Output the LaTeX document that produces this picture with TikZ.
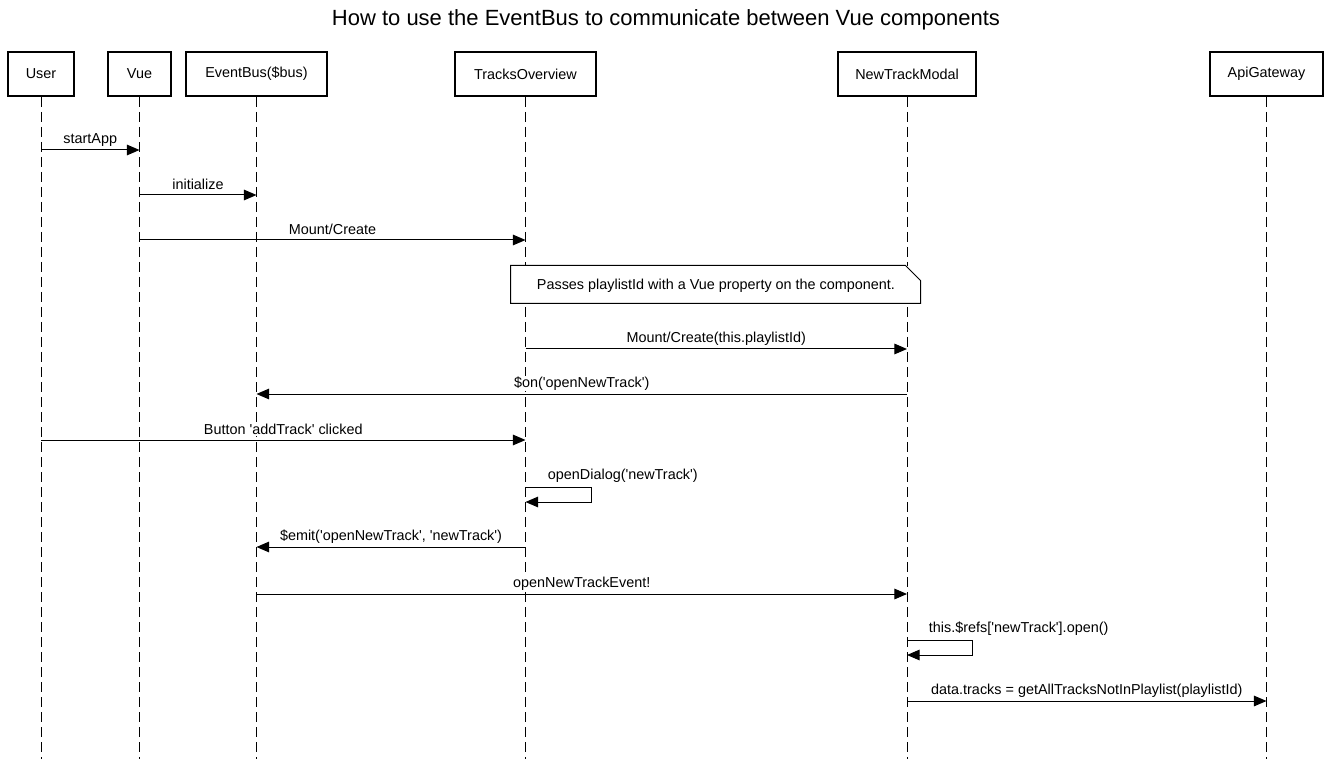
\documentclass[tikz,border=0pt]{standalone}
\usepackage{fontspec}
\newfontfamily\lsans{Liberation Sans}
\usetikzlibrary{arrows.meta}
\tikzset{
  actor/.style={draw, line width=1.5pt, fill=white, minimum height=33pt, inner sep=0pt, font=\lsans\fontsize{10.8}{12}\selectfont},
  lifeline/.style={line width=0.75pt, dash pattern=on 7.5pt off 3.75pt},
  msg/.style={line width=0.75pt, -{Triangle[length=9.5pt,width=8pt]}},
  lbl/.style={font=\lsans\fontsize{10.8}{12}\selectfont, inner sep=0.5pt, fill=white},
  notebox/.style={draw, line width=0.75pt, fill=white}
}
\begin{document}
\begin{tikzpicture}[x=0.75pt,y=-0.75pt]
\useasboundingbox (0,0) rectangle (1332,759);
\node[lbl, font=\lsans\fontsize{16.5}{19}\selectfont] (title) at (666,19.5) {How to use the EventBus to communicate between Vue components};
% actors
\node[actor, minimum width=49.5pt] (u) at (41,74) {User};
\node[actor, minimum width=47.25pt] (v) at (139.5,74) {Vue};
\node[actor, minimum width=105.75pt] (b) at (256.5,74) {EventBus(\$bus)};
\node[actor, minimum width=105.75pt] (t) at (525.5,74) {TracksOverview};
\node[actor, minimum width=103.5pt] (n) at (907,74) {NewTrackModal};
\node[actor, minimum width=84.75pt] (a) at (1266.5,74) {ApiGateway};
% lifeline ends
\coordinate (ue) at (41,759);
\coordinate (ve) at (139.5,759);
\coordinate (be) at (256.5,759);
\coordinate (te) at (525.5,759);
\coordinate (ne) at (907,759);
\coordinate (ae) at (1266.5,759);
\draw[lifeline] (u.south) -- (ue);
\draw[lifeline] (v.south) -- (ve);
\draw[lifeline] (b.south) -- (be);
\draw[lifeline] (t.south) -- (te);
\draw[lifeline] (n.south) -- (ne);
\draw[lifeline] (a.south) -- (ae);
% message anchor points
\coordinate (m1a) at (41,150);   \coordinate (m1b) at (139.5,150);
\coordinate (m2a) at (139.5,195); \coordinate (m2b) at (256.5,195);
\coordinate (m3a) at (139.5,240); \coordinate (m3b) at (525.5,240);
\coordinate (m4a) at (525.5,349); \coordinate (m4b) at (907,349);
\coordinate (m5a) at (907,394);   \coordinate (m5b) at (256.5,394);
\coordinate (m6a) at (41,440);    \coordinate (m6b) at (525.5,440);
\coordinate (m7a) at (525.5,487); \coordinate (m7c) at (591,487); \coordinate (m7d) at (591,502); \coordinate (m7b) at (525.5,502);
\coordinate (m8a) at (525.5,547); \coordinate (m8b) at (256.5,547);
\coordinate (m9a) at (256.5,594); \coordinate (m9b) at (907,594);
\coordinate (m10a) at (907,640); \coordinate (m10c) at (972,640); \coordinate (m10d) at (972,655); \coordinate (m10b) at (907,655);
\coordinate (m11a) at (907,701); \coordinate (m11b) at (1266.5,701);
% note
\node[notebox, minimum width=306.75pt, minimum height=27.75pt, draw=none, inner sep=0pt] (note) at (715.5,284.5) {};
\draw[notebox] (note.south west) -- (note.north west) -- ([xshift=-11.25pt]note.north east) -- ([yshift=-11.25pt]note.north east) -- (note.south east) -- cycle;
\node[lbl] (notetext) at (716,285.5) {Passes playlistId with a Vue property on the component.};
% messages
\draw[msg] (m1a) -- node[lbl, above=7.8pt, anchor=center] {startApp} (m1b);
\draw[msg] (m2a) -- node[lbl, above=7.8pt, anchor=center] {initialize} (m2b);
\draw[msg] (m3a) -- node[lbl, above=7.8pt, anchor=center] {Mount/Create} (m3b);
\draw[msg] (m4a) -- node[lbl, above=7.8pt, anchor=center] {Mount/Create(this.playlistId)} (m4b);
\draw[msg] (m5a) -- node[lbl, above=7.8pt, anchor=center] {\$on('openNewTrack')} (m5b);
\draw[msg] (m6a) -- node[lbl, above=7.8pt, anchor=center] {Button 'addTrack' clicked} (m6b);
\draw[msg] (m7a) -- (m7c) -- (m7d) -- (m7b);
\node[lbl, anchor=west] (l7) at (547,476) {openDialog('newTrack')};
\draw[msg] (m8a) -- node[lbl, above=7.8pt, anchor=center] {\$emit('openNewTrack', 'newTrack')} (m8b);
\draw[msg] (m9a) -- node[lbl, above=7.8pt, anchor=center] {openNewTrackEvent!} (m9b);
\draw[msg] (m10a) -- (m10c) -- (m10d) -- (m10b);
\node[lbl, anchor=west] (l10) at (928,629) {this.\$refs['newTrack'].open()};
\draw[msg] (m11a) -- node[lbl, above=7.8pt, anchor=center] {data.tracks = getAllTracksNotInPlaylist(playlistId)} (m11b);
\end{tikzpicture}
\end{document}
